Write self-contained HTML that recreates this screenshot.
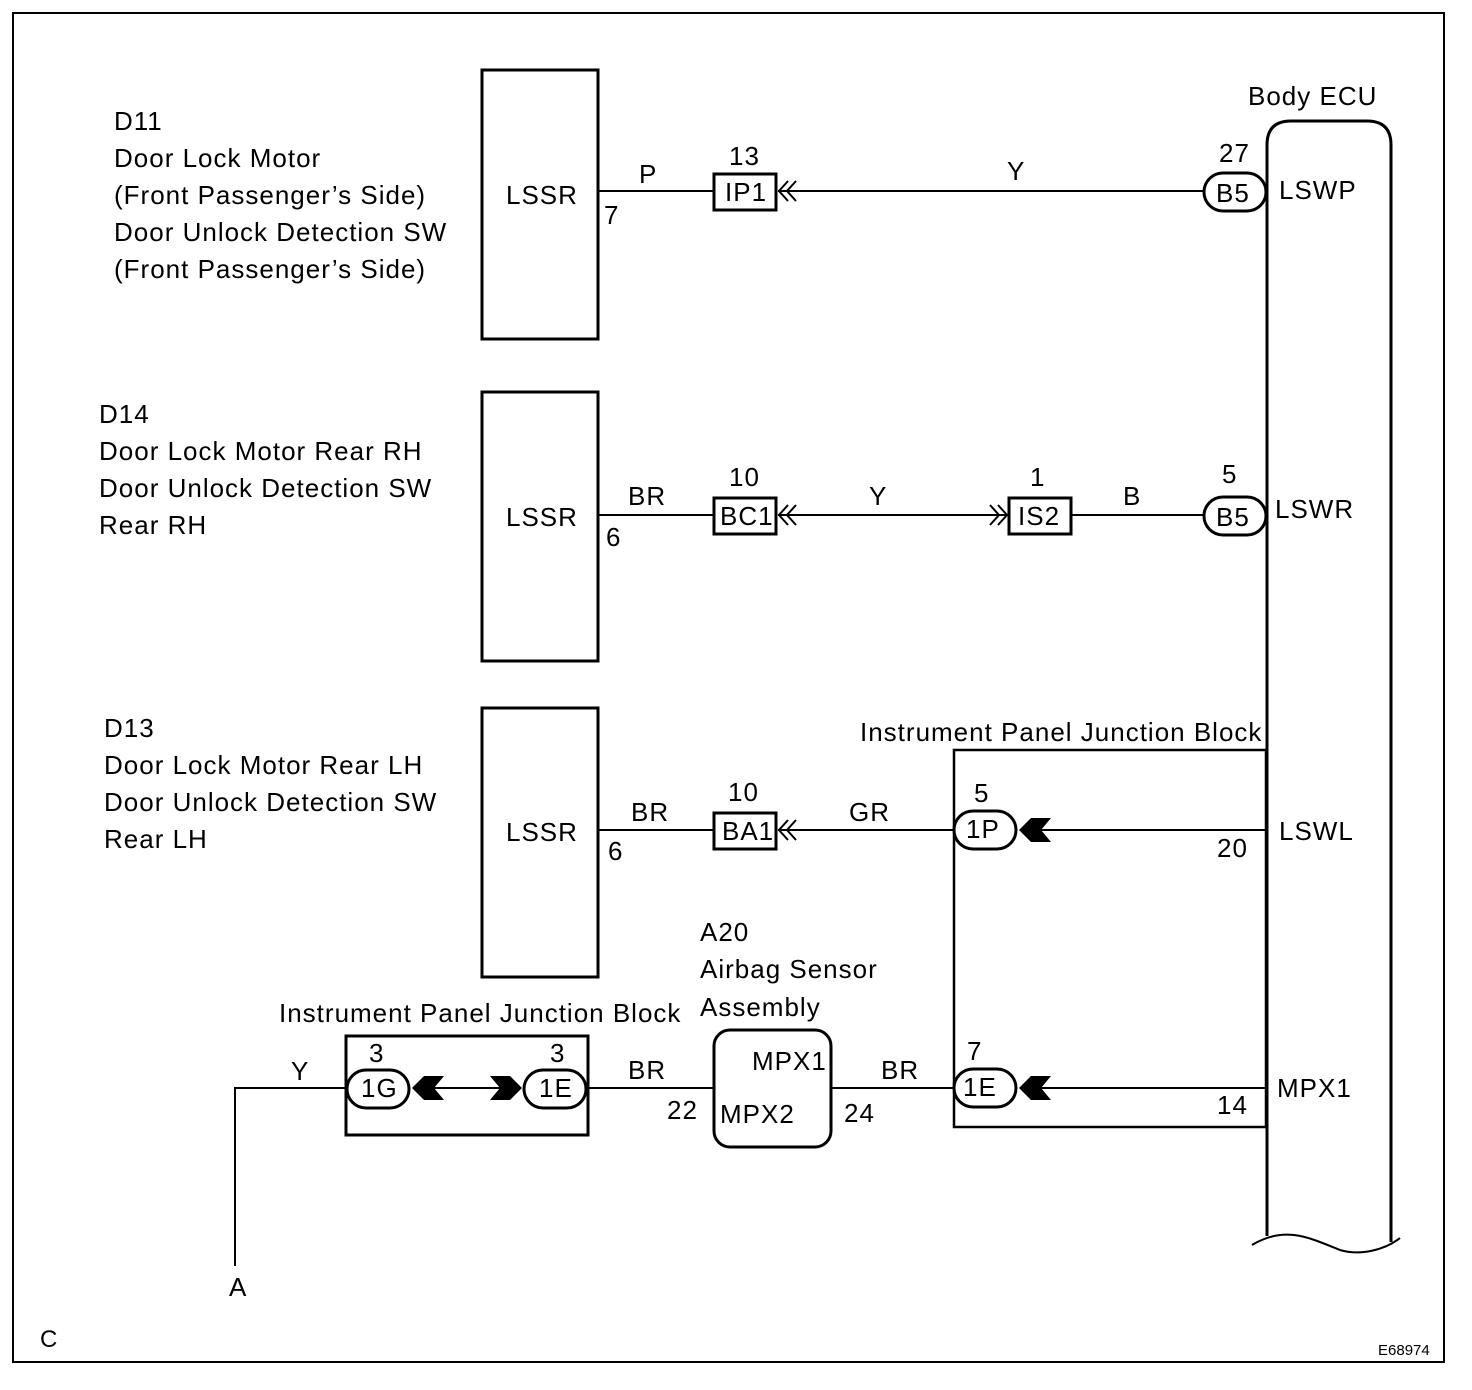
<!DOCTYPE html>
<html><head><meta charset="utf-8"><style>
html,body{margin:0;padding:0;background:#fff;}
svg{display:block;}
text{font-family:"Liberation Sans",Arial,sans-serif;font-size:26px;fill:#000;letter-spacing:1px;}
</style></head><body>
<svg width="1472" height="1390" viewBox="0 0 1472 1390" xmlns="http://www.w3.org/2000/svg">
<rect x="0" y="0" width="1472" height="1390" fill="#fff"/>
<rect x="13" y="13" width="1431" height="1349" fill="none" stroke="#000" stroke-width="2"/>

<g fill="none" stroke="#000" stroke-width="3">
<rect x="482" y="70" width="116" height="269"/>
<rect x="482" y="392" width="116" height="269"/>
<rect x="482" y="708" width="116" height="269"/>
<path d="M1267,1236 L1267,145 Q1267,121 1291,121 L1367,121 Q1391,121 1391,145 L1391,1242"/>
<rect x="954" y="750" width="312" height="377" stroke-width="2.5"/>
<rect x="346" y="1036" width="242" height="99"/>
<rect x="714" y="1030" width="117" height="117" rx="16"/>
</g>
<path d="M1252,1245 C1285,1225 1310,1238 1340,1250 C1360,1256 1385,1250 1400,1238" fill="none" stroke="#000" stroke-width="2"/>

<g stroke="#000" stroke-width="2" fill="none">
<line x1="598" y1="191" x2="713" y2="191"/>
<line x1="778" y1="191" x2="1203" y2="191"/>
<line x1="598" y1="515" x2="713" y2="515"/>
<line x1="778" y1="515" x2="1006" y2="515"/>
<line x1="1071" y1="515" x2="1203" y2="515"/>
<line x1="598" y1="830" x2="713" y2="830"/>
<line x1="778" y1="830" x2="953" y2="830"/>
<line x1="1040" y1="830" x2="1266" y2="830"/>
<line x1="1040" y1="1088" x2="1266" y2="1088"/>
<line x1="831" y1="1088" x2="953" y2="1088"/>
<line x1="588" y1="1088" x2="714" y2="1088"/>
<line x1="434" y1="1088" x2="500" y2="1088"/>
<polyline points="346,1088 235,1088 235,1266"/>
<polyline points="788,181 779,191 788,201"/><polyline points="796,181 787,191 796,201"/>
<polyline points="788,505 779,515 788,525"/><polyline points="796,505 787,515 796,525"/>
<polyline points="788,820 779,830 788,840"/><polyline points="796,820 787,830 796,840"/>
<polyline points="990,505 999,515 990,525"/><polyline points="998,505 1007,515 998,525"/>
</g>
<g fill="#fff" stroke="#000" stroke-width="3">
<rect x="714" y="174" width="62" height="36"/>
<rect x="714" y="498" width="62" height="36"/>
<rect x="1009" y="498" width="62" height="36"/>
<rect x="714" y="813" width="62" height="36"/>
<rect x="1204" y="173" width="62" height="38" rx="19"/>
<rect x="1204" y="497" width="62" height="38" rx="19"/>
<rect x="954" y="811" width="62" height="38" rx="19"/>
<rect x="954" y="1069" width="62" height="38" rx="19"/>
<rect x="347" y="1070" width="62" height="38" rx="19"/>
<rect x="524" y="1070" width="62" height="38" rx="19"/>
</g>
<g fill="#000">
<polygon points="1019,830 1031,818 1051,818 1041,830 1051,842 1031,842"/>
<polygon points="1019,1088 1031,1076 1051,1076 1041,1088 1051,1100 1031,1100"/>
<polygon points="412,1088 424,1076 444,1076 434,1088 444,1100 424,1100"/>
<polygon points="522,1088 510,1076 490,1076 500,1088 490,1100 510,1100"/>
</g>

<text x="114" y="130">D11</text>
<text x="114" y="167">Door Lock Motor</text>
<text x="114" y="204">(Front Passenger’s Side)</text>
<text x="114" y="241">Door Unlock Detection SW</text>
<text x="114" y="278">(Front Passenger’s Side)</text>
<text x="99" y="423">D14</text>
<text x="99" y="460">Door Lock Motor Rear RH</text>
<text x="99" y="497">Door Unlock Detection SW</text>
<text x="99" y="534">Rear RH</text>
<text x="104" y="737">D13</text>
<text x="104" y="774">Door Lock Motor Rear LH</text>
<text x="104" y="811">Door Unlock Detection SW</text>
<text x="104" y="848">Rear LH</text>
<text x="506" y="204">LSSR</text>
<text x="506" y="526">LSSR</text>
<text x="506" y="841">LSSR</text>
<text x="1248" y="105">Body ECU</text>
<text x="1279" y="199">LSWP</text>
<text x="1275" y="518">LSWR</text>
<text x="1279" y="840">LSWL</text>
<text x="1277" y="1097">MPX1</text>
<text x="860" y="741">Instrument Panel Junction Block</text>
<text x="279" y="1022">Instrument Panel Junction Block</text>
<text x="700" y="941">A20</text>
<text x="700" y="978">Airbag Sensor</text>
<text x="700" y="1016">Assembly</text>
<text x="752" y="1070">MPX1</text>
<text x="720" y="1123">MPX2</text>
<text x="639" y="183">P</text>
<text x="604" y="224">7</text>
<text x="729" y="165">13</text>
<text x="1007" y="180">Y</text>
<text x="1219" y="162">27</text>
<text x="628" y="505">BR</text>
<text x="606" y="546">6</text>
<text x="729" y="486">10</text>
<text x="869" y="505">Y</text>
<text x="1030" y="486">1</text>
<text x="1123" y="505">B</text>
<text x="1222" y="483">5</text>
<text x="631" y="821">BR</text>
<text x="608" y="860">6</text>
<text x="728" y="801">10</text>
<text x="849" y="821">GR</text>
<text x="974" y="802">5</text>
<text x="1217" y="857">20</text>
<text x="291" y="1080">Y</text>
<text x="369" y="1062">3</text>
<text x="550" y="1062">3</text>
<text x="628" y="1079">BR</text>
<text x="667" y="1119">22</text>
<text x="844" y="1122">24</text>
<text x="881" y="1079">BR</text>
<text x="967" y="1060">7</text>
<text x="1217" y="1114">14</text>
<text x="229" y="1296">A</text>
<text x="40" y="1347" style="font-size:24px">C</text>
<text x="1378" y="1355" style="font-size:15px;letter-spacing:0">E68974</text>
<g>
<text x="725" y="201">IP1</text>
<text x="720" y="525">BC1</text>
<text x="1018" y="525">IS2</text>
<text x="722" y="840">BA1</text>
<text x="1216" y="202">B5</text>
<text x="1216" y="526">B5</text>
<text x="966" y="838">1P</text>
<text x="963" y="1096">1E</text>
<text x="361" y="1097">1G</text>
<text x="539" y="1097">1E</text>
</g>
</svg>
</body></html>
